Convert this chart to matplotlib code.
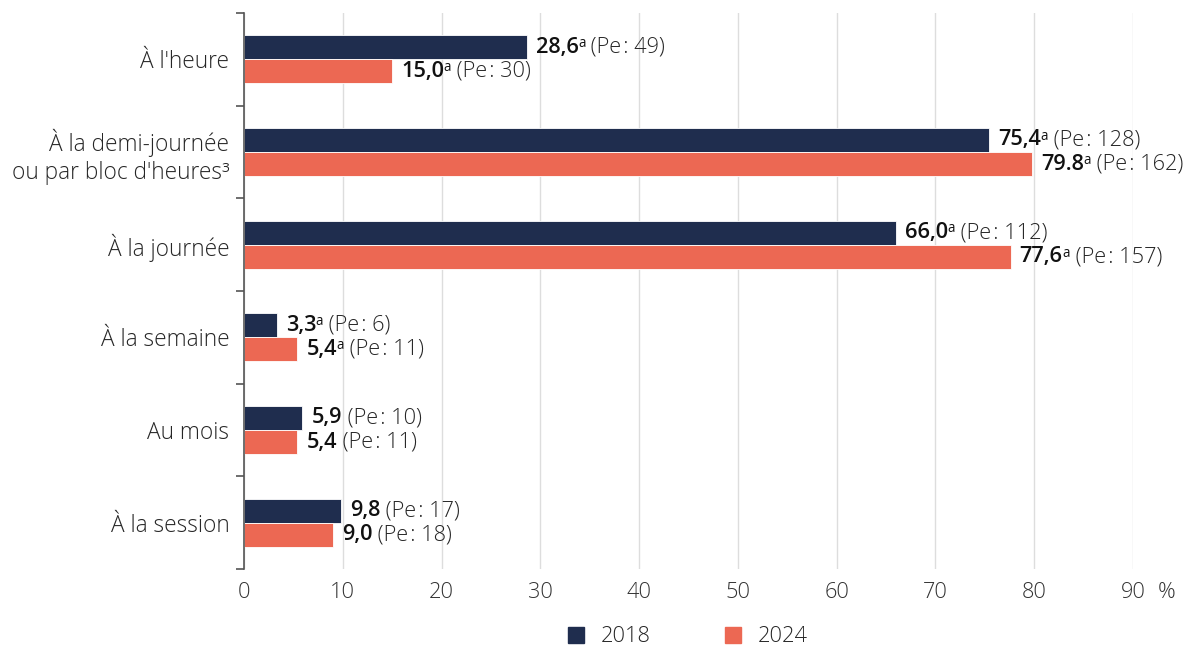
import matplotlib
matplotlib.use("Agg")
import matplotlib.pyplot as plt
from matplotlib.patches import Patch
import numpy as np

plt.rcParams['font.family'] = ['Open Sans', 'DejaVu Sans']

categories = ["À l'heure", "À la demi-journée\nou par bloc d'heures³", "À la journée",
              "À la semaine", "Au mois", "À la session"]
values_2018 = [28.6, 75.4, 66.0, 3.3, 5.9, 9.8]
values_2024 = [15.0, 79.8, 77.6, 5.4, 5.4, 9.0]
labels_2018 = ["28,6", "75,4", "66,0", "3,3", "5,9", "9,8"]
labels_2024 = ["15,0", "79.8", "77,6", "5,4", "5,4", "9,0"]
sup_2018 = ["a", "a", "a", "a", "", ""]
sup_2024 = ["a", "a", "a", "a", "", ""]
pe_2018 = [49, 128, 112, 6, 10, 17]
pe_2024 = [30, 162, 157, 11, 11, 18]
series_names = ["2018", "2024"]
xticks = [0, 10, 20, 30, 40, 50, 60, 70, 80, 90]

c2018 = "#1f2d4e"
c2024 = "#ec6853"
txt = "#262626"
FS = 15.7
FSC = 16.3
LW = 'light'

fig = plt.figure(figsize=(11.96, 6.47), dpi=100)
ax = fig.add_axes([244/1196, 1-569/647, (1133-244)/1196, (569-13)/647])

y = np.arange(len(categories))
h = 0.26
ax.barh(y - h/2, values_2018, height=h, color=c2018, edgecolor="white", linewidth=0.6, zorder=3)
ax.barh(y + h/2, values_2024, height=h, color=c2024, edgecolor="white", linewidth=0.6, zorder=3)

ax.set_xlim(0, 90)
ax.set_ylim(len(categories) - 0.5, -0.5)
ax.set_xticks(xticks)
ax.set_xticklabels([str(t) for t in xticks], fontsize=FS, color="#333333", fontweight=LW)
ax.set_yticks(y)
ax.set_yticklabels(categories, fontsize=FSC, color=txt, fontweight=LW)
ax.set_yticks(np.arange(len(categories) + 1) - 0.5, minor=True)
ax.tick_params(axis='y', which='major', length=0, pad=10.5)
ax.tick_params(axis='y', which='minor', length=6, width=1.2, color="#555555", direction='out')
ax.tick_params(axis='x', length=0, pad=9)
ax.grid(axis='x', color="#dddddd", linewidth=1, zorder=0)
for s in ["top", "right", "bottom"]:
    ax.spines[s].set_visible(False)
ax.spines["left"].set_color("#555555")
ax.spines["left"].set_linewidth(1.2)
ax.spines["left"].set_zorder(4)

def label(xv, yv, val, sup, pe):
    t1 = ax.annotate(val, xy=(xv, yv), xytext=(6.5, 0), textcoords='offset points',
                     va='center', ha='left', fontsize=FS, fontweight='semibold', color="#111111")
    prev = t1
    if sup:
        t2 = ax.annotate(sup, xy=(1, 1), xycoords=t1, xytext=(-0.3, 0.5),
                         textcoords='offset points', va='top', ha='left',
                         fontsize=FS*0.62, color="#111111")
        prev = t2
    ax.annotate(" (Pe\u200a: %d)" % pe, xy=(1, 0), xycoords=(prev, t1), va='bottom', ha='left',
                fontsize=FS, color=txt, fontweight=LW)

for i in range(len(categories)):
    label(values_2018[i], y[i] - h/2, labels_2018[i], sup_2018[i], pe_2018[i])
    label(values_2024[i], y[i] + h/2, labels_2024[i], sup_2024[i], pe_2024[i])

ax.annotate("%", xy=(90, 0), xycoords=('data', 'axes fraction'), xytext=(24.5, -9),
            textcoords='offset points', ha='center', va='top', fontsize=FS, color="#333333",
            fontweight=LW)

handles = [Patch(color=c2018), Patch(color=c2024)]
fig.legend(handles, series_names, loc='center', bbox_to_anchor=(688/1196, 1-637/647),
           ncol=2, frameon=False, handlelength=0.72, handleheight=0.72,
           handletextpad=0.8, columnspacing=3.4, labelcolor="#262626",
           prop={'size': FS, 'weight': LW})

fig.savefig("out.png", dpi=100)
